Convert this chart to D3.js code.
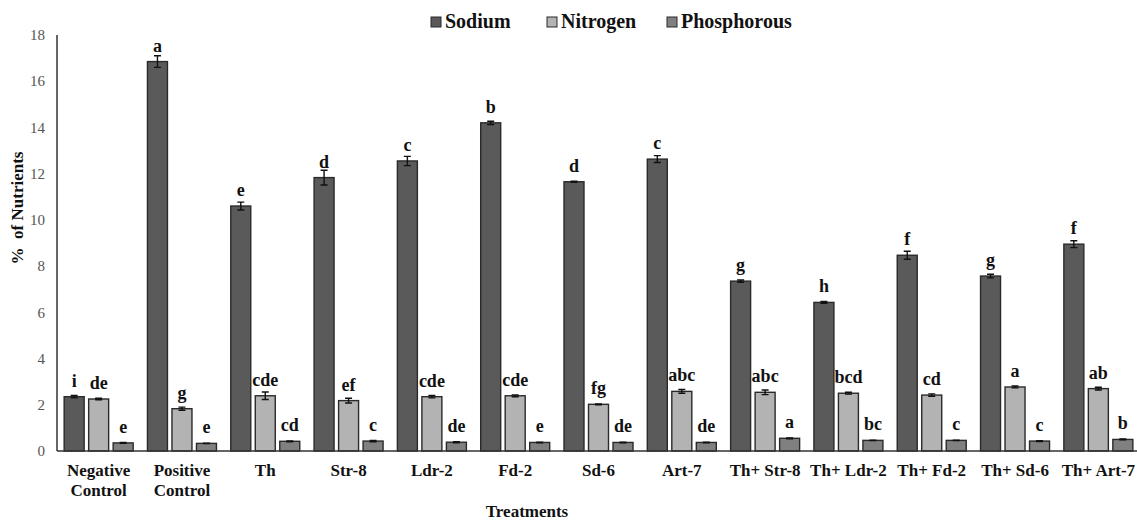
<!DOCTYPE html>
<html>
<head>
<meta charset="utf-8">
<script src="https://cdn.jsdelivr.net/npm/d3@7"></script>
<style>
  html, body { margin: 0; padding: 0; background: #fff; }
  svg { display: block; font-family: "Liberation Serif", "Times New Roman", "DejaVu Serif", serif; }
</style>
</head>
<body>
<svg id="chart" width="1137" height="524"></svg>
<script>
const categories = [
  ["Negative", "Control"], ["Positive", "Control"], ["Th"], ["Str-8"], ["Ldr-2"], ["Fd-2"],
  ["Sd-6"], ["Art-7"], ["Th+ Str-8"], ["Th+ Ldr-2"], ["Th+ Fd-2"], ["Th+ Sd-6"], ["Th+ Art-7"]
];
const seriesNames = ["Sodium", "Nitrogen", "Phosphorous"];
const seriesColors = ["#5a5a5a", "#b3b3b3", "#808080"];

const sodium      = [2.35, 16.85, 10.6, 11.83, 12.55, 14.2, 11.65, 12.63, 7.35, 6.43, 8.47, 7.57, 8.95];
const sodiumErr   = [0.05, 0.25, 0.17, 0.32, 0.2, 0.07, 0.02, 0.15, 0.05, 0.04, 0.17, 0.08, 0.15];
const sodiumSig   = ["i", "a", "e", "d", "c", "b", "d", "c", "g", "h", "f", "g", "f"];

const nitrogen    = [2.25, 1.83, 2.39, 2.18, 2.35, 2.39, 2.02, 2.58, 2.54, 2.5, 2.42, 2.77, 2.7];
const nitrogenErr = [0.03, 0.07, 0.16, 0.1, 0.05, 0.04, 0.02, 0.08, 0.1, 0.04, 0.05, 0.04, 0.06];
const nitrogenSig = ["de", "g", "cde", "ef", "cde", "cde", "fg", "abc", "abc", "bcd", "cd", "a", "ab"];

const phos        = [0.35, 0.33, 0.42, 0.43, 0.38, 0.37, 0.37, 0.37, 0.55, 0.46, 0.46, 0.43, 0.5];
const phosErr     = [0.02, 0.01, 0.02, 0.03, 0.02, 0.01, 0.01, 0.01, 0.02, 0.01, 0.01, 0.02, 0.02];
const phosSig     = ["e", "e", "cd", "c", "de", "e", "de", "de", "a", "bc", "c", "c", "b"];

const yTicks = [0, 2, 4, 6, 8, 10, 12, 14, 16, 18];

const values = [sodium, nitrogen, phos];
const errors = [sodiumErr, nitrogenErr, phosErr];
const sigs = [sodiumSig, nitrogenSig, phosSig];

const svg = d3.select("#chart");
const mLeft = 57, mRight = 1140, mTop = 35, mBottom = 451;

const x0 = d3.scaleBand().domain(d3.range(categories.length)).range([mLeft, mRight]).padding(0);
const x1 = d3.scaleBand().domain(d3.range(seriesNames.length)).range([-34.5, 34.5]).paddingInner(0.184).paddingOuter(0);
const y = d3.scaleLinear().domain([0, 18]).range([mBottom, mTop]);

// y tick labels (no tick marks)
svg.append("g").selectAll("text").data(yTicks).join("text")
  .attr("x", 45).attr("y", d => y(d)).attr("dy", "0.35em")
  .attr("text-anchor", "end").attr("font-size", 15).attr("fill", "#555")
  .text(d => d);

// bars
const groups = svg.append("g").selectAll("g").data(categories).join("g")
  .attr("transform", (d, i) => `translate(${x0(i) + x0.bandwidth() / 2},0)`);

seriesNames.forEach((s, si) => {
  groups.append("rect")
    .attr("x", x1(si)).attr("width", x1.bandwidth())
    .attr("y", (d, i) => y(values[si][i]))
    .attr("height", (d, i) => mBottom - y(values[si][i]))
    .attr("fill", seriesColors[si]).attr("stroke", "#2a2a2a").attr("stroke-width", 1.4);
  const cx = x1(si) + x1.bandwidth() / 2;
  // error bars
  groups.append("path")
    .attr("d", (d, i) => {
      const v = values[si][i], e = errors[si][i];
      const y1 = y(v + e), y2 = y(v - e);
      return `M${cx},${y1}V${y2}M${cx - 3.5},${y1}H${cx + 3.5}M${cx - 3.5},${y2}H${cx + 3.5}`;
    })
    .attr("stroke", "#111").attr("stroke-width", 1.4).attr("fill", "none");
  // significance letters
  groups.append("text")
    .attr("x", cx).attr("y", (d, i) => y(values[si][i]) - 10)
    .attr("text-anchor", "middle").attr("font-size", 18).attr("font-weight", "bold").attr("fill", "#111")
    .text((d, i) => sigs[si][i]);
});

// axes lines
svg.append("line").attr("x1", mLeft).attr("x2", mLeft).attr("y1", mTop).attr("y2", mBottom)
  .attr("stroke", "#333").attr("stroke-width", 1.5);
svg.append("line").attr("x1", mLeft).attr("x2", 1137).attr("y1", mBottom).attr("y2", mBottom)
  .attr("stroke", "#333").attr("stroke-width", 1.5);

// category labels
const xl = svg.append("g").selectAll("text").data(categories).join("text")
  .attr("x", (d, i) => x0(i) + x0.bandwidth() / 2).attr("y", 476)
  .attr("text-anchor", "middle").attr("font-size", 17).attr("font-weight", "bold").attr("fill", "#111");
xl.selectAll("tspan").data(d => d).join("tspan")
  .attr("x", function () { return this.parentNode.getAttribute("x"); })
  .attr("dy", (d, i) => i === 0 ? 0 : 20)
  .text(d => d);

// axis titles
svg.append("text").attr("x", 527).attr("y", 517).attr("text-anchor", "middle")
  .attr("font-size", 17).attr("font-weight", "bold").attr("fill", "#111").text("Treatments");
svg.append("text").attr("transform", "translate(23,208) rotate(-90)").attr("text-anchor", "middle")
  .attr("font-size", 17).attr("font-weight", "bold").attr("fill", "#111").attr("xml:space", "preserve")
  .text("%  of Nutrients");

// legend
const legendX = [431, 547, 667];
const lg = svg.append("g").selectAll("g").data(seriesNames).join("g")
  .attr("transform", (d, i) => `translate(${legendX[i]},17)`);
lg.append("rect").attr("width", 10).attr("height", 10)
  .attr("fill", (d, i) => seriesColors[i]).attr("stroke", "#2a2a2a").attr("stroke-width", 1);
lg.append("text").attr("x", 14).attr("y", 11).attr("font-size", 20).attr("font-weight", "bold")
  .attr("fill", "#111").text(d => d);
</script>
</body>
</html>
